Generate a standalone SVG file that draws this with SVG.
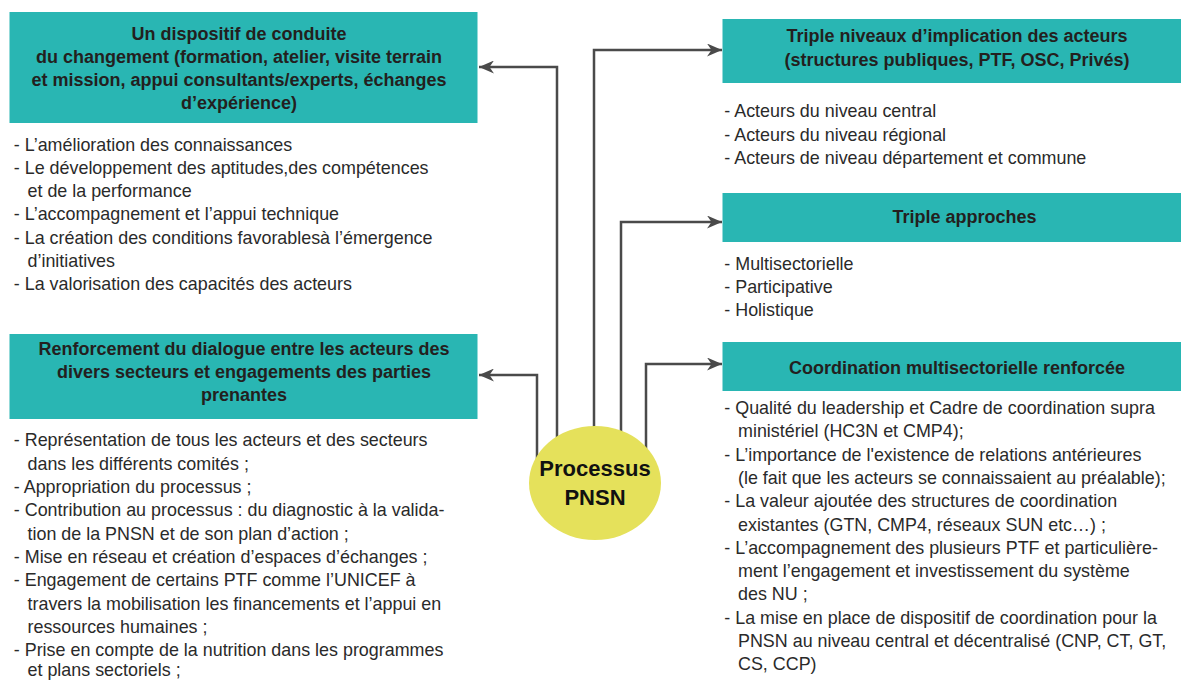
<svg xmlns="http://www.w3.org/2000/svg" width="1181" height="680" viewBox="0 0 1181 680">
<style>
.box{fill:#29b6b3}
.ttl{font-family:"Liberation Sans",Arial,sans-serif;font-weight:bold;font-size:18px;fill:#231f20;text-anchor:middle}
.lst{font-family:"Liberation Sans",Arial,sans-serif;font-size:17.9px;fill:#2a2a2a}
.con{fill:none;stroke:#4a4a4a;stroke-width:2.5}
.ctr{font-family:"Liberation Sans",Arial,sans-serif;font-weight:bold;font-size:22px;fill:#111;text-anchor:middle}
</style>
<defs>
<marker id="ah" markerUnits="userSpaceOnUse" markerWidth="16" markerHeight="13" refX="15" refY="6.5" orient="auto">
<path d="M0,0 L15,6.5 L0,13 L4.5,6.5 Z" fill="#4a4a4a"/>
</marker>
</defs>
<rect width="1181" height="680" fill="#ffffff"/>
<g id="connectors">
<path class="con" d="M557,445 V67 H479" marker-end="url(#ah)"/>
<path class="con" d="M537,462 V375 H479" marker-end="url(#ah)"/>
<path class="con" d="M594,432 V50 H722" marker-end="url(#ah)"/>
<path class="con" d="M621,436 V222 H722" marker-end="url(#ah)"/>
<path class="con" d="M646,452 V364 H722" marker-end="url(#ah)"/>
</g>
<g id="node-dispositif">
<rect class="box" x="9.5" y="12" width="468" height="111"/>
<text class="ttl" x="239" y="39.5">Un dispositif de conduite</text>
<text class="ttl" x="239" y="63">du changement (formation, atelier, visite terrain</text>
<text class="ttl" x="239" y="86.3">et mission, appui consultants/experts, échanges</text>
<text class="ttl" x="239" y="109">d’expérience)</text>
<text class="lst" x="13.8" y="150.5">- L’amélioration des connaissances</text>
<text class="lst" x="13.8" y="173.8">- Le développement des aptitudes,des compétences</text>
<text class="lst" x="27.5" y="197.1">et de la performance</text>
<text class="lst" x="13.8" y="220.4">- L’accompagnement et l’appui technique</text>
<text class="lst" x="13.8" y="243.7">- La création des conditions favorablesà l’émergence</text>
<text class="lst" x="27.5" y="267">d’initiatives</text>
<text class="lst" x="13.8" y="290.3">- La valorisation des capacités des acteurs</text>
</g>
<g id="node-dialogue">
<rect class="box" x="9.5" y="334" width="468" height="85"/>
<text class="ttl" x="244" y="354.7">Renforcement du dialogue entre les acteurs des</text>
<text class="ttl" x="244" y="378">divers secteurs et engagements des parties</text>
<text class="ttl" x="244" y="401.3">prenantes</text>
<text class="lst" x="13.8" y="446.4">- Représentation de tous les acteurs et des secteurs</text>
<text class="lst" x="27.5" y="469.7">dans les différents comités ;</text>
<text class="lst" x="13.8" y="493">- Appropriation du processus ;</text>
<text class="lst" x="13.8" y="516.3">- Contribution au processus : du diagnostic à la valida-</text>
<text class="lst" x="27.5" y="539.6">tion de la PNSN et de son plan d’action ;</text>
<text class="lst" x="13.8" y="562.9">- Mise en réseau et création d’espaces d’échanges ;</text>
<text class="lst" x="13.8" y="586.2">- Engagement de certains PTF comme l’UNICEF à</text>
<text class="lst" x="27.5" y="609.5">travers la mobilisation les financements et l’appui en</text>
<text class="lst" x="27.5" y="632.8">ressources humaines ;</text>
<text class="lst" x="13.8" y="655.6">- Prise en compte de la nutrition dans les programmes</text>
<text class="lst" x="27.5" y="675.6">et plans sectoriels ;</text>
</g>
<g id="node-niveaux">
<rect class="box" x="722.5" y="19" width="460" height="64"/>
<text class="ttl" x="957" y="42.4">Triple niveaux d’implication des acteurs</text>
<text class="ttl" x="957" y="65.7">(structures publiques, PTF, OSC, Privés)</text>
<text class="lst" x="724.3" y="117.4">- Acteurs du niveau central</text>
<text class="lst" x="724.3" y="140.7">- Acteurs du niveau régional</text>
<text class="lst" x="724.3" y="164">- Acteurs de niveau département et commune</text>
</g>
<g id="node-approches">
<rect class="box" x="722.5" y="193" width="460" height="49"/>
<text class="ttl" x="964.5" y="223">Triple approches</text>
<text class="lst" x="724.3" y="269.7">- Multisectorielle</text>
<text class="lst" x="724.3" y="293">- Participative</text>
<text class="lst" x="724.3" y="316.4">- Holistique</text>
</g>
<g id="node-coordination">
<rect class="box" x="722.5" y="342" width="460" height="49"/>
<text class="ttl" x="957" y="374">Coordination multisectorielle renforcée</text>
<text class="lst" x="724.3" y="414">- Qualité du leadership et Cadre de coordination supra</text>
<text class="lst" x="738" y="437.3">ministériel (HC3N et CMP4);</text>
<text class="lst" x="724.3" y="460.6">- L’importance de l'existence de relations antérieures</text>
<text class="lst" x="738" y="483.9">(le fait que les acteurs se connaissaient au préalable);</text>
<text class="lst" x="724.3" y="507.2">- La valeur ajoutée des structures de coordination</text>
<text class="lst" x="738" y="530.5">existantes (GTN, CMP4, réseaux SUN etc…) ;</text>
<text class="lst" x="724.3" y="553.8">- L’accompagnement des plusieurs PTF et particulière-</text>
<text class="lst" x="738" y="577.1">ment l’engagement et investissement du système</text>
<text class="lst" x="738" y="600.4">des NU ;</text>
<text class="lst" x="724.3" y="623.7">- La mise en place de dispositif de coordination pour la</text>
<text class="lst" x="738" y="647">PNSN au niveau central et décentralisé (CNP, CT, GT,</text>
<text class="lst" x="738" y="670.3">CS, CCP)</text>
</g>
<g id="node-processus">
<ellipse cx="595" cy="483" rx="66" ry="57" fill="#e5e15b"/>
<text class="ctr" x="595" y="476">Processus</text>
<text class="ctr" x="595" y="504.6">PNSN</text>
</g>
</svg>
